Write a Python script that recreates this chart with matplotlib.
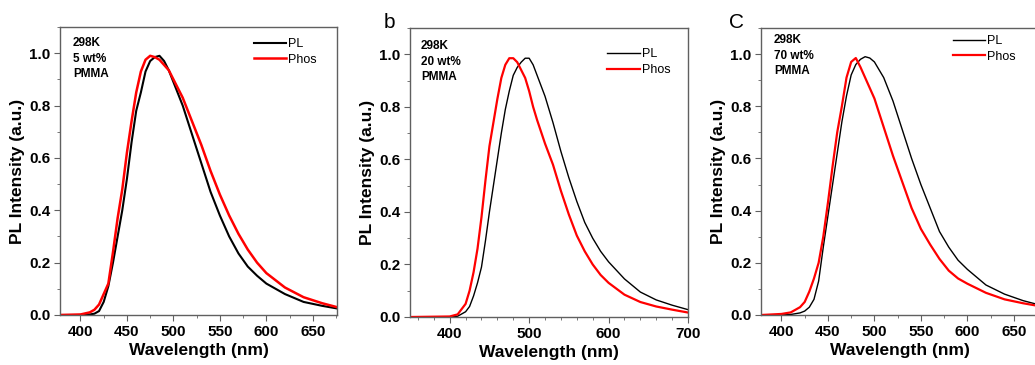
import matplotlib.pyplot as plt
from matplotlib.ticker import MultipleLocator, FormatStrFormatter

plt.rcParams['font.family'] = ['Liberation Sans', 'DejaVu Sans']

# panel a: 5 wt% in PMMA
wl_a = [378, 400, 410, 415, 420, 425, 430, 435, 440, 445, 450, 455, 460, 465, 470, 475,
        480, 485, 490, 495, 500, 510, 520, 530, 540, 550, 560, 570, 580, 590, 600, 620,
        640, 660, 676]
pl_a = [0, 0, 0.002, 0.005, 0.015, 0.05, 0.11, 0.2, 0.30, 0.40, 0.52, 0.66, 0.78, 0.85,
        0.93, 0.97, 0.985, 0.99, 0.97, 0.935, 0.89, 0.80, 0.69, 0.58, 0.47, 0.38, 0.30,
        0.235, 0.185, 0.15, 0.12, 0.08, 0.05, 0.035, 0.025]
phos_a = [0, 0.002, 0.01, 0.02, 0.04, 0.08, 0.12, 0.24, 0.37, 0.48, 0.62, 0.74, 0.85,
          0.93, 0.975, 0.99, 0.985, 0.975, 0.955, 0.935, 0.90, 0.83, 0.74, 0.65, 0.55,
          0.46, 0.38, 0.31, 0.25, 0.2, 0.16, 0.105, 0.068, 0.045, 0.03]

# panel b: 20 wt% in PMMA
wl_b = [350, 400, 410, 420, 425, 430, 435, 440, 445, 450, 455, 460, 465, 470, 475, 480,
        485, 490, 495, 500, 505, 510, 520, 530, 540, 550, 560, 570, 580, 590, 600, 620,
        640, 660, 680, 700]
pl_b = [0, 0, 0.003, 0.02, 0.04, 0.08, 0.13, 0.19, 0.29, 0.40, 0.50, 0.60, 0.70, 0.79,
        0.86, 0.92, 0.95, 0.97, 0.985, 0.985, 0.96, 0.92, 0.84, 0.74, 0.63, 0.53, 0.44,
        0.36, 0.30, 0.25, 0.21, 0.145, 0.095, 0.065, 0.045, 0.028]
phos_b = [0, 0.002, 0.01, 0.05, 0.1, 0.17, 0.26, 0.38, 0.52, 0.65, 0.74, 0.83, 0.91,
          0.96, 0.985, 0.985, 0.97, 0.94, 0.91, 0.86, 0.80, 0.75, 0.66, 0.58, 0.48, 0.39,
          0.31, 0.25, 0.2, 0.16, 0.13, 0.085, 0.057, 0.04, 0.028, 0.017]

# panel c: 70 wt% in PMMA
wl_c = [378, 400, 410, 420, 425, 430, 435, 440, 445, 450, 455, 460, 465, 470, 475, 480,
        485, 490, 495, 500, 510, 520, 530, 540, 550, 560, 570, 580, 590, 600, 620, 640,
        660, 676]
pl_c = [0, 0, 0.002, 0.008, 0.015, 0.03, 0.06, 0.13, 0.26, 0.38, 0.5, 0.62, 0.74, 0.84,
        0.92, 0.96, 0.98, 0.99, 0.985, 0.97, 0.91, 0.82, 0.71, 0.6, 0.5, 0.41, 0.32, 0.26,
        0.21, 0.175, 0.115, 0.08, 0.055, 0.04]
phos_c = [0, 0.004, 0.01, 0.03, 0.05, 0.09, 0.14, 0.2, 0.3, 0.43, 0.57, 0.7, 0.8, 0.91,
          0.97, 0.985, 0.95, 0.91, 0.87, 0.83, 0.72, 0.61, 0.51, 0.41, 0.33, 0.27, 0.215,
          0.17, 0.14, 0.12, 0.085, 0.06, 0.045, 0.035]

notes = ['298K\n5 wt%\nPMMA', '298K\n20 wt%\nPMMA', '298K\n70 wt%\nPMMA']
panel_tags = ['', 'b', 'C']

W, H = 1035, 365
fig = plt.figure(figsize=(W / 100, H / 100), dpi=100)

# axes boxes in pixels: left, right, top, bottom
boxes = [(60, 337, 27, 315), (410, 688, 28, 317), (761, 1038, 28, 315)]
xlims = [(378, 676), (350, 700), (378, 676)]
xmajor = [50, 100, 50]
xminor = [25, 20, 25]
leg_pos = [(0.70, 0.962), (0.71, 0.93), (0.693, 0.976)]
note_pos = [(73, 37), (421, 40), (774, 34)]
tag_dx = [0, 21, 24]
lw = [(1.5, 1.8), (1.0, 1.6), (1.0, 1.6)]

data = [(wl_a, pl_a, phos_a), (wl_b, pl_b, phos_b), (wl_c, pl_c, phos_c)]
gray = '#606060'

for i in range(3):
    l, r, t, b = boxes[i]
    ax = fig.add_axes([l / W, 1 - b / H, (r - l) / W, (b - t) / H])
    wl, pl, phos = data[i]
    ax.plot(wl, pl, color='black', lw=lw[i][0], label='PL')
    ax.plot(wl, phos, color='red', lw=lw[i][1], label='Phos')
    ax.set_xlim(*xlims[i])
    ax.set_ylim(0, 1.1)
    ax.xaxis.set_major_locator(MultipleLocator(xmajor[i]))
    ax.xaxis.set_minor_locator(MultipleLocator(xminor[i]))
    ax.yaxis.set_major_locator(MultipleLocator(0.2))
    ax.yaxis.set_minor_locator(MultipleLocator(0.1))
    ax.yaxis.set_major_formatter(FormatStrFormatter('%.1f'))
    for s in ax.spines.values():
        s.set_color(gray)
        s.set_linewidth(1.0)
    ax.tick_params(which='both', direction='out', color=gray)
    ax.tick_params(which='major', length=4, labelsize=11, pad=3)
    ax.tick_params(which='minor', length=2.5)
    for lab in ax.get_xticklabels() + ax.get_yticklabels():
        lab.set_fontweight('bold')
    ax.set_xlabel('Wavelength (nm)', fontsize=12.5, fontweight='bold', labelpad=3)
    ax.set_ylabel('PL Intensity (a.u.)', fontsize=12.5, fontweight='bold', labelpad=3)
    ax.legend(loc='upper left', bbox_to_anchor=leg_pos[i], frameon=False, fontsize=9,
              handlelength=2.6, handletextpad=0.15, labelspacing=0.3,
              borderpad=0, borderaxespad=0)
    nx, ny = note_pos[i]
    fig.text(nx / W, 1 - ny / H, notes[i], fontsize=8.5, fontweight='bold',
             va='top', ha='left', linespacing=1.4)
    if panel_tags[i]:
        fig.text((l - tag_dx[i]) / W, 1 - 22 / H, panel_tags[i], fontsize=15,
                 ha='center', va='center')

fig.savefig('out.png', dpi=100)
